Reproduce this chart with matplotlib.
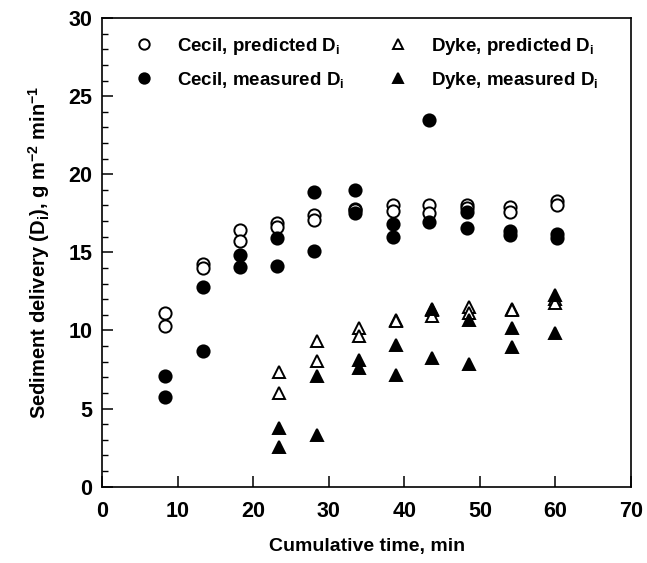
import matplotlib
matplotlib.use("Agg")
import matplotlib.pyplot as plt
from matplotlib.ticker import MultipleLocator

plt.rcParams['font.family'] = ['Liberation Sans', 'DejaVu Sans']
plt.rcParams['font.weight'] = 'bold'
plt.rcParams['mathtext.fontset'] = 'custom'
plt.rcParams['mathtext.rm'] = 'Liberation Sans:bold'
plt.rcParams['mathtext.it'] = 'Liberation Sans:bold'
plt.rcParams['mathtext.bf'] = 'Liberation Sans:bold'
plt.rcParams['mathtext.default'] = 'rm'

# Cecil soil: two replicates per time step
cecil_time = [8.3, 13.3, 18.2, 23.1, 28.0, 33.5, 38.5, 43.3, 48.3, 54.0, 60.2]
cecil_pred_a = [11.1, 14.26, 16.4, 16.88, 17.42, 17.8, 18.0, 18.0, 18.06, 17.9, 18.27]
cecil_pred_b = [10.26, 14.0, 15.75, 16.63, 17.1, 17.7, 17.63, 17.53, 17.85, 17.57, 18.06]
cecil_meas_a = [7.1, 12.76, 14.85, 15.92, 18.87, 19.0, 16.84, 23.47, 17.57, 16.39, 16.2]
cecil_meas_b = [5.75, 8.7, 14.04, 14.15, 15.06, 17.55, 15.99, 16.92, 16.56, 16.13, 15.92]

# Dyke soil
dyke_time = [23.4, 28.4, 34.0, 38.9, 43.6, 48.5, 54.2, 60.0]
dyke_pred_a = [7.37, 9.34, 10.15, 10.7, 11.3, 11.5, 11.4, 12.0]
dyke_pred_b = [6.03, 8.06, 9.66, 10.6, 10.94, 11.15, 11.3, 11.76]
dyke_meas_a = [3.74, 7.1, 8.12, 9.08, 11.39, 10.68, 10.15, 12.29]
dyke_meas_b = [2.56, 3.31, 7.59, 7.16, 8.27, 7.86, 8.93, 9.87]

labels = ["Cecil, predicted D$_\\mathregular{i}$",
          "Cecil, measured D$_\\mathregular{i}$",
          "Dyke, predicted D$_\\mathregular{i}$",
          "Dyke, measured D$_\\mathregular{i}$"]

fig = plt.figure(figsize=(6.47, 5.63), dpi=100)
ax = fig.add_axes([0.1581, 0.1355, 0.8172, 0.8325])

ms_c = 8.8
ms_t = 8.5
mew = 1.4

def pts(t, a, b):
    return list(t) + list(t), list(a) + list(b)

x, y = pts(dyke_time, dyke_pred_a, dyke_pred_b)
h3, = ax.plot(x, y, '^', ls='none', ms=ms_t, mfc='white', mec='black', mew=mew)
x, y = pts(dyke_time, dyke_meas_a, dyke_meas_b)
h4, = ax.plot(x, y, '^', ls='none', ms=ms_t, mfc='black', mec='black', mew=mew)
x, y = pts(cecil_time, cecil_pred_a, cecil_pred_b)
h1, = ax.plot(x, y, 'o', ls='none', ms=ms_c, mfc='white', mec='black', mew=mew)
x, y = pts(cecil_time, cecil_meas_a, cecil_meas_b)
h2, = ax.plot(x, y, 'o', ls='none', ms=ms_c, mfc='black', mec='black', mew=mew)

ax.set_xlim(0, 70)
ax.set_ylim(0, 30)
ax.xaxis.set_major_locator(MultipleLocator(10))
ax.yaxis.set_major_locator(MultipleLocator(5))
ax.yaxis.set_minor_locator(MultipleLocator(1))
ax.tick_params(axis='both', which='major', direction='in', length=8, width=1.1,
               labelsize=15.5, top=False, right=False)
ax.tick_params(axis='x', pad=10)
ax.tick_params(axis='y', pad=7)
ax.tick_params(axis='y', which='minor', direction='in', length=4.5, width=1.0,
               right=False)
for s in ax.spines.values():
    s.set_linewidth(1.2)

ax.set_xlabel("Cumulative time, min", fontsize=14, fontweight='bold', labelpad=12)
ax.set_ylabel("Sediment delivery (D$_\\mathregular{i}$), g m$^\\mathregular{-2}$ min$^\\mathregular{-1}$",
              fontsize=14.5, fontweight='bold', labelpad=12)

leg = ax.legend([h1, h2, h3, h4], labels, ncol=2, loc='upper left',
                bbox_to_anchor=(0.061, 0.962), frameon=False, fontsize=13.5,
                handlelength=1.0, handletextpad=1.25, columnspacing=2.4,
                labelspacing=0.7, borderpad=0.0, borderaxespad=0.0,
                markerscale=0.85)

fig.savefig("out.png", dpi=100)
